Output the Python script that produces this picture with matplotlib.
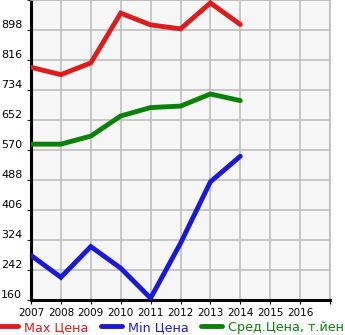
"""Price ranges by year: max, min and average."""
import matplotlib
matplotlib.use('Agg')
import matplotlib.pyplot as plt

years = [2007, 2008, 2009, 2010, 2011, 2012, 2013, 2014]
max_price = [796, 776, 808, 944, 912, 901, 972, 913]
min_price = [282, 222, 306, 247, 165, 315, 483, 553]
avg_price = [586, 586, 608, 663, 686, 690, 723, 705]

y_ticks = [160, 242, 324, 406, 488, 570, 652, 734, 816, 898]
x_ticks = list(range(2007, 2017))
labels = ['Max Цена', 'Min Цена', 'Сред.Цена, т.йен']
colors = ['#dd1c1c', '#1a1ad6', '#0a820a']

fig = plt.figure(figsize=(3.45, 3.35), dpi=100)
ax = fig.add_axes([31/345, 35/335, 299/345, 300/335])
ax.set_facecolor('#f6f6f6')

for vals, c, lab in zip([max_price, min_price, avg_price], colors, labels):
    ax.plot(years, vals, color=c, lw=3.5, solid_capstyle='round',
            solid_joinstyle='miter', label=lab, zorder=3)

ax.set_xlim(2007, 2017)
ax.set_ylim(160, 980)
ax.set_xticks(x_ticks + [2017])
ax.set_xticklabels([str(y) for y in x_ticks] + [''])
ax.set_yticks(y_ticks + [980])
ax.set_yticklabels([str(v) for v in y_ticks] + [''], ha='left', va='bottom')
ax.grid(True, color='#bbbbbb', lw=1.1, zorder=0)
ax.tick_params(axis='y', length=3, pad=18.6, labelsize=8, color='#222222')
ax.tick_params(axis='x', length=3, pad=3, labelsize=7.5, color='#000000')
for s in ['top', 'right']:
    ax.spines[s].set_color('#bbbbbb')
    ax.spines[s].set_linewidth(1.1)
for s in ['left', 'bottom']:
    ax.spines[s].set_color('black')
    ax.spines[s].set_linewidth(2.2)

leg = fig.legend(loc='lower left', bbox_to_anchor=(-0.012, 0.0), ncol=3,
                 frameon=False, fontsize=9.2, handlelength=1.6,
                 handletextpad=0.5, columnspacing=1.0, borderaxespad=0,
                 borderpad=0.1)
for t, c in zip(leg.get_texts(), colors):
    t.set_color(c)

fig.savefig('out.png', dpi=100)
